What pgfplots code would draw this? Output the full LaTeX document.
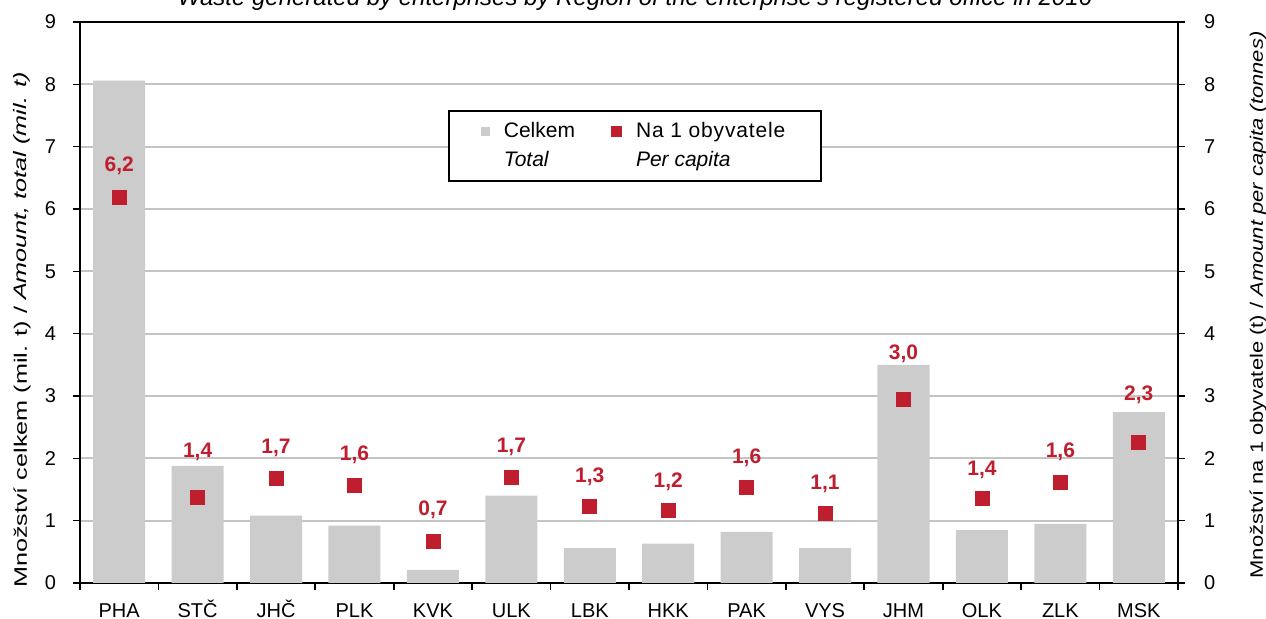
\documentclass[border=0pt]{standalone}
\usepackage{pgfplots}
\pgfplotsset{compat=1.18}
\usepackage{pgfplotstable}
\usepackage{fontspec}
\setmainfont{Liberation Sans}

\definecolor{barGray}{HTML}{CCCCCC}
\definecolor{markRed}{HTML}{BE1E2D}
\definecolor{gridGray}{HTML}{C4C4C4}

% x total perCapita labelY label
\pgfplotstableread{
x total pc ly lab
0 8.06 6.18 6.69 6,2
1 1.88 1.38 2.10 1,4
2 1.08 1.67 2.17 1,7
3 0.92 1.57 2.05 1,6
4 0.21 0.67 1.17 0,7
5 1.40 1.70 2.18 1,7
6 0.56 1.23 1.70 1,3
7 0.63 1.16 1.62 1,2
8 0.82 1.54 2.01 1,6
9 0.56 1.12 1.59 1,1
10 3.50 2.94 3.68 3,0
11 0.85 1.35 1.81 1,4
12 0.95 1.61 2.10 1,6
13 2.74 2.25 3.02 2,3
}\data

\begin{document}
\begin{tikzpicture}
  \pgfplotsset{
    every axis/.append style={
      width=549pt, height=280.5pt, scale only axis,
      xmin=-0.5, xmax=13.5, ymin=0, ymax=9,
      ytick={0,...,9},
      tick align=outside,
      major tick length=3.5pt, minor tick length=3.5pt,
      tick style={black, line width=0.8pt},
      axis line style={line width=1pt},
      tick label style={font=\fontsize{10}{11}\selectfont},
      /pgf/number format/assume math mode=true,
    },
  }
  \begin{axis}[
    xtick={0,...,13},
    xticklabels={PHA,STČ,JHČ,PLK,KVK,ULK,LBK,HKK,PAK,VYS,JHM,OLK,ZLK,MSK},
    major x tick style={draw=none},
    minor xtick={-0.5,0.5,...,13.5},
    xtick pos=bottom, ytick pos=left,
    xticklabel style={text height=7.2pt, text depth=0pt, yshift=-3pt},
    yticklabel style={xshift=-5pt},
    ymajorgrids, grid style={gridGray, line width=1pt},
    legend columns=2,
    legend cell align=left,
    legend style={
      at={(0.335,0.843)}, anchor=north west,
      draw=black, line width=1pt,
      font=\fontsize{10.5}{13}\selectfont,
      inner xsep=16pt, inner ysep=3.5pt,
      /tikz/row sep=1.5pt,
      /tikz/every odd column/.append style={column sep=5pt},
      /tikz/every even column/.append style={column sep=16pt},
    },
  ]
    \coordinate (bl) at (rel axis cs:0,0);
    \addplot[ybar, bar width=26pt, fill=barGray, draw=none,
      legend image code/.code={\fill[barGray] (0pt,-2.25pt) rectangle (4.5pt,2.25pt);}]
      table[x=x, y=total] {\data};
    \addlegendentry{Celkem}
    \addplot[only marks, mark=square*, mark size=3.5pt, color=markRed,
      legend image code/.code={\fill[markRed] (0pt,-2.25pt) rectangle (4.5pt,2.25pt);}]
      table[x=x, y=pc] {\data};
    \addlegendentry{\addfontfeature{LetterSpace=4}Na 1 obyvatele}
    \addlegendimage{empty legend}
    \addlegendentry{\textit{Total}}
    \addlegendimage{empty legend}
    \addlegendentry{\textit{Per capita}}
    \addplot[draw=none, mark=none, forget plot,
      nodes near coords, point meta=explicit symbolic,
      nodes near coords style={anchor=center, text=markRed,
        font=\fontsize{10.5}{12}\selectfont\bfseries}]
      table[x=x, y=ly, meta=lab] {\data};
  \end{axis}
  \begin{axis}[
    axis x line=none, axis y line*=right,
    xtick=\empty,
    yticklabel style={xshift=6pt},
  ]
    \addplot[draw=none] coordinates {(0,0)};
  \end{axis}
  % axis titles and the (cut off) chart title
  \node[rotate=90, font=\fontsize{9}{10}\selectfont] at ([xshift=-29pt, yshift=126.5pt]bl)
    {\scalebox{1.4}[1]{Množství celkem (mil. t) / \textit{Amount, total (mil. t)}}};
  \node[rotate=90, font=\fontsize{9}{10}\selectfont] at ([xshift=589pt, yshift=139pt]bl)
    {\scalebox{1.22}[1]{Množství na 1 obyvatele (t) / \textit{Amount per capita (tonnes)}}};
  \node[anchor=base, font=\fontsize{12}{14}\selectfont\itshape] at ([xshift=277.5pt, yshift=288.5pt]bl)
    {Waste generated by enterprises by Region of the enterprise's registered office in 2016};
  \pgfresetboundingbox
  \useasboundingbox ([xshift=-40pt, yshift=-18pt]bl) rectangle ([xshift=593pt, yshift=291.5pt]bl);
\end{tikzpicture}
\end{document}
